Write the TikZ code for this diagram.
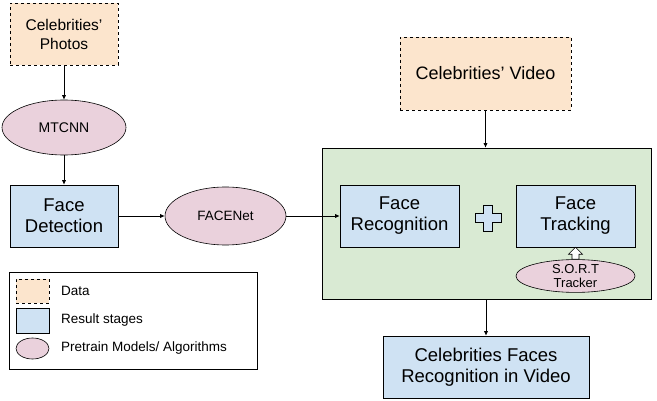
\documentclass[tikz,border=0pt]{standalone}
\usepackage{fontspec}
\setmainfont{Liberation Sans}
\usetikzlibrary{arrows.meta,shapes.geometric,calc}
\definecolor{datafill}{HTML}{FCE5CD}
\definecolor{stagefill}{HTML}{CFE2F3}
\definecolor{modelfill}{HTML}{EAD1DC}
\definecolor{groupfill}{HTML}{D9EAD3}
\tikzset{
  datab/.style={draw=black, dashed, fill=datafill, line width=0.6pt, align=center, inner sep=0pt},
  stageb/.style={draw=black, fill=stagefill, line width=0.6pt, align=center, inner sep=0pt, font=\fontsize{18.5}{21}\selectfont},
  modele/.style={draw=black, ellipse, fill=modelfill, line width=0.6pt, align=center, inner sep=0pt},
  conn/.style={-{Latex[length=4.5pt,width=4pt]}, line width=0.6pt},
  legt/.style={anchor=west, font=\fontsize{13.5}{16}\selectfont, inner sep=0pt},
}
\begin{document}
\begin{tikzpicture}[x=1pt,y=-1pt]
\useasboundingbox (0,0) rectangle (657,401);
% group container
\node[draw=black, fill=groupfill, line width=0.6pt, minimum width=329pt, minimum height=151pt, inner sep=0pt] (grp) at (486.5,223.5) {};
% data
\node[datab, minimum width=108pt, minimum height=62pt, font=\fontsize{15.5}{19}\selectfont] (photos) at (64,34) {Celebrities’\\Photos};
\node[datab, minimum width=171pt, minimum height=73pt, font=\fontsize{18}{21}\selectfont] (video) at (485.5,73.5) {Celebrities’ Video};
% models
\node[modele, minimum width=124pt, minimum height=55pt, font=\fontsize{14}{16}\selectfont] (mtcnn) at (64,127.5) {MTCNN};
\node[modele, minimum width=121pt, minimum height=58pt, font=\fontsize{13.5}{16}\selectfont] (facenet) at (225.5,216) {FACENet};
\node[modele, minimum width=119pt, minimum height=32pt, font=\fontsize{13}{14}\selectfont] (sort) at (575.5,276) {S.O.R.T\\Tracker};
% stages
\node[stageb, minimum width=108pt, minimum height=62pt] (det) at (64,216) {Face\\Detection};
\node[stageb, minimum width=119pt, minimum height=62pt] (rec) at (399.5,216) {Face\\Recognition};
\node[stageb, minimum width=119pt, minimum height=62pt] (trk) at (575.5,216) {Face\\Tracking};
\node[stageb, minimum width=206pt, minimum height=62pt] (out) at (486,367) {Celebrities Faces\\Recognition in Video};
% plus sign
\coordinate (pc) at (488,218);
\draw[fill=stagefill, line width=0.6pt] ($(pc)+(-4.5,-13)$) -- ++(9,0) -- ++(0,8.5) -- ++(8.5,0) -- ++(0,9) -- ++(-8.5,0) -- ++(0,8.5) -- ++(-9,0) -- ++(0,-8.5) -- ++(-8.5,0) -- ++(0,-9) -- ++(8.5,0) -- cycle;
% hollow arrow from SORT up to tracking
\draw[fill=white, line width=0.6pt] ([xshift=-3.5pt]sort.north) -- ++(0,-5) -- ++(-3.5,0) -- (trk.south) -- ($([xshift=7pt]sort.north)+(0,-5)$) -- ++(-3.5,0) -- ([xshift=3.5pt]sort.north) -- cycle;
% connectors
\draw[conn] (photos) -- (mtcnn);
\draw[conn] (mtcnn) -- (det);
\draw[conn] (det) -- (facenet);
\draw[conn] (facenet) -- (rec);
\draw[conn] (video) -- (video.south |- grp.north);
\draw[conn] (grp.south -| out.north) -- (out);
% legend
\node[draw=black, line width=0.6pt, minimum width=248pt, minimum height=97pt, inner sep=0pt] (leg) at (133,320.5) {};
\node[datab, minimum width=33pt, minimum height=24pt] (ld) at (32.5,291) {};
\node[stageb, minimum width=33pt, minimum height=25pt] (ls) at (32.5,320.5) {};
\node[modele, minimum width=33pt, minimum height=21pt] (lm) at (32.5,348.5) {};
\node[legt] (ldt) at (61,291) {Data};
\node[legt] (lst) at (61,320.5) {Result stages};
\node[legt] (lmt) at (61,348.5) {Pretrain Models/ Algorithms};
\end{tikzpicture}
\end{document}
